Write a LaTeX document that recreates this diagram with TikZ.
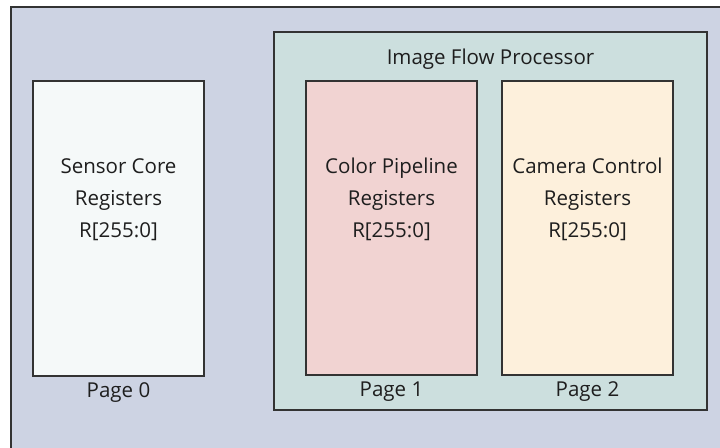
\documentclass[tikz,border=0pt]{standalone}
\usepackage{fontspec}
\setmainfont{Open Sans}
\definecolor{bgouter}{HTML}{CDD3E3}
\definecolor{bgifp}{HTML}{CCDFDE}
\definecolor{bgsensor}{HTML}{F5F9F9}
\definecolor{bgcolor}{HTML}{F1D3D2}
\definecolor{bgcamera}{HTML}{FDF0DC}
\definecolor{edge}{HTML}{333333}
\definecolor{ink}{HTML}{1E1E1E}
\tikzset{
  box/.style={draw=edge, line width=1.3pt, inner sep=0pt, outer sep=0pt, anchor=north west},
  txt/.style={text=ink, font=\fontsize{20.5}{32}\selectfont, inner sep=0pt, anchor=base},
  multi/.style={txt, align=center, anchor=north}
}
\begin{document}
\begin{tikzpicture}[x=1pt,y=-1pt]
\useasboundingbox (0,0) rectangle (720,447);
\clip (0,0) rectangle (720,447);
\fill[white] (0,0) rectangle (720,447);
\node[box, fill=bgouter, line width=2.2pt, minimum width=740pt, minimum height=460pt] (frame) at (11,7) {};
\node[box, fill=bgsensor, minimum width=171pt, minimum height=295pt] (sensor) at (33,81) {};
\node[box, fill=bgifp, minimum width=433pt, minimum height=378pt] (ifp) at (274,32) {};
\node[box, fill=bgcolor, minimum width=171pt, minimum height=294pt] (color) at (306,81) {};
\node[box, fill=bgcamera, minimum width=171pt, minimum height=294pt] (camera) at (502,81) {};
\node[txt] (ifplabel) at ([yshift=-32pt]ifp.north) {Image Flow Processor};
\node[multi] (sensortext) at ([yshift=-77pt]sensor.north) {Sensor Core\\Registers\\R[255:0]};
\node[multi] (colortext) at ([yshift=-77pt]color.north) {Color Pipeline\\Registers\\R[255:0]};
\node[multi] (cameratext) at ([yshift=-77pt]camera.north) {Camera Control\\Registers\\R[255:0]};
\node[txt] (page0) at ([yshift=-21pt]sensor.south) {Page 0};
\node[txt] (page1) at ([yshift=-21pt]color.south) {Page 1};
\node[txt] (page2) at ([yshift=-21pt]camera.south) {Page 2};
\end{tikzpicture}
\end{document}
